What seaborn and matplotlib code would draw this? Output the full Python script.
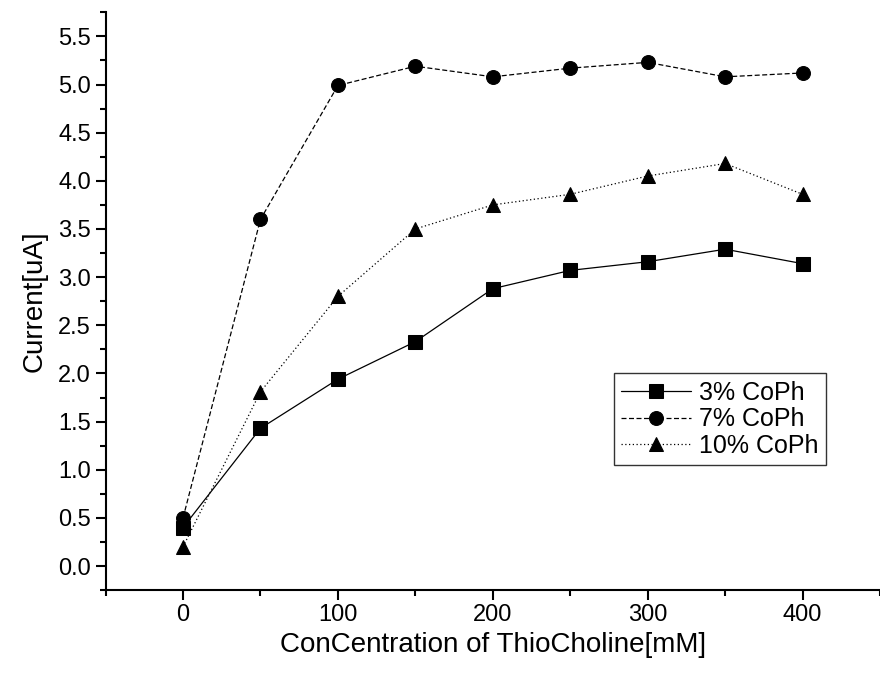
import numpy as np
import pandas as pd
import matplotlib
matplotlib.use("Agg")
import matplotlib.pyplot as plt
import seaborn as sns
from matplotlib.ticker import MultipleLocator

# data
conc = [0, 50, 100, 150, 200, 250, 300, 350, 400]
cur_3 = [0.40, 1.43, 1.94, 2.33, 2.88, 3.07, 3.16, 3.29, 3.14]
cur_7 = [0.50, 3.60, 4.99, 5.19, 5.08, 5.17, 5.23, 5.08, 5.12]
cur_10 = [0.20, 1.81, 2.80, 3.50, 3.75, 3.86, 4.05, 4.18, 3.86]
labels = ["3% CoPh", "7% CoPh", "10% CoPh"]

df = pd.DataFrame({
    "conc": conc * 3,
    "current": cur_3 + cur_7 + cur_10,
    "series": [labels[0]] * 9 + [labels[1]] * 9 + [labels[2]] * 9,
})

sns.set_style("ticks")
plt.rcParams['font.family'] = ['Liberation Sans', 'DejaVu Sans']
plt.rcParams['text.color'] = 'black'
plt.rcParams['axes.labelcolor'] = 'black'

fig = plt.figure(figsize=(8.8, 6.83), dpi=100)
ax = fig.add_axes([0.12, 0.136, 0.88, 0.846])

sns.lineplot(data=df, x="conc", y="current", hue="series", style="series",
             palette=["black"] * 3,
             markers={labels[0]: "s", labels[1]: "o", labels[2]: "^"},
             dashes={labels[0]: "", labels[1]: (4, 2), labels[2]: (1, 2)},
             markersize=10, linewidth=0.9, markeredgecolor="black",
             ax=ax)

ax.set_xlim(-50, 450)
ax.set_ylim(-0.25, 5.75)
ax.xaxis.set_major_locator(MultipleLocator(100))
ax.xaxis.set_minor_locator(MultipleLocator(50))
ax.yaxis.set_minor_locator(MultipleLocator(0.25))
ax.set_yticks(np.arange(0, 5.51, 0.5))
ax.yaxis.set_major_formatter(matplotlib.ticker.FormatStrFormatter("%.1f"))

ax.tick_params(which="major", direction="out", length=7, width=1.5, labelsize=17,
               colors="black", labelcolor="black")
ax.tick_params(axis="x", which="major", pad=3)
ax.tick_params(which="minor", direction="out", length=4, width=1.5, colors="black")
for s in ["top", "right"]:
    ax.spines[s].set_visible(False)
for s in ["left", "bottom"]:
    ax.spines[s].set_linewidth(1.5)
    ax.spines[s].set_color("black")

ax.set_xlabel("ConCentration of ThioCholine[mM]", fontsize=20, labelpad=4)
ax.set_ylabel("Current[uA]", fontsize=20, labelpad=8)

leg = ax.legend(loc="upper left", bbox_to_anchor=(0.656, 0.375), borderaxespad=0,
                fontsize=18, frameon=True, fancybox=False, edgecolor="black",
                handlelength=2.8, handletextpad=0.3, borderpad=0.3, labelspacing=0.1)
leg.get_frame().set_linewidth(1.0)

fig.savefig("out.png", dpi=100)
